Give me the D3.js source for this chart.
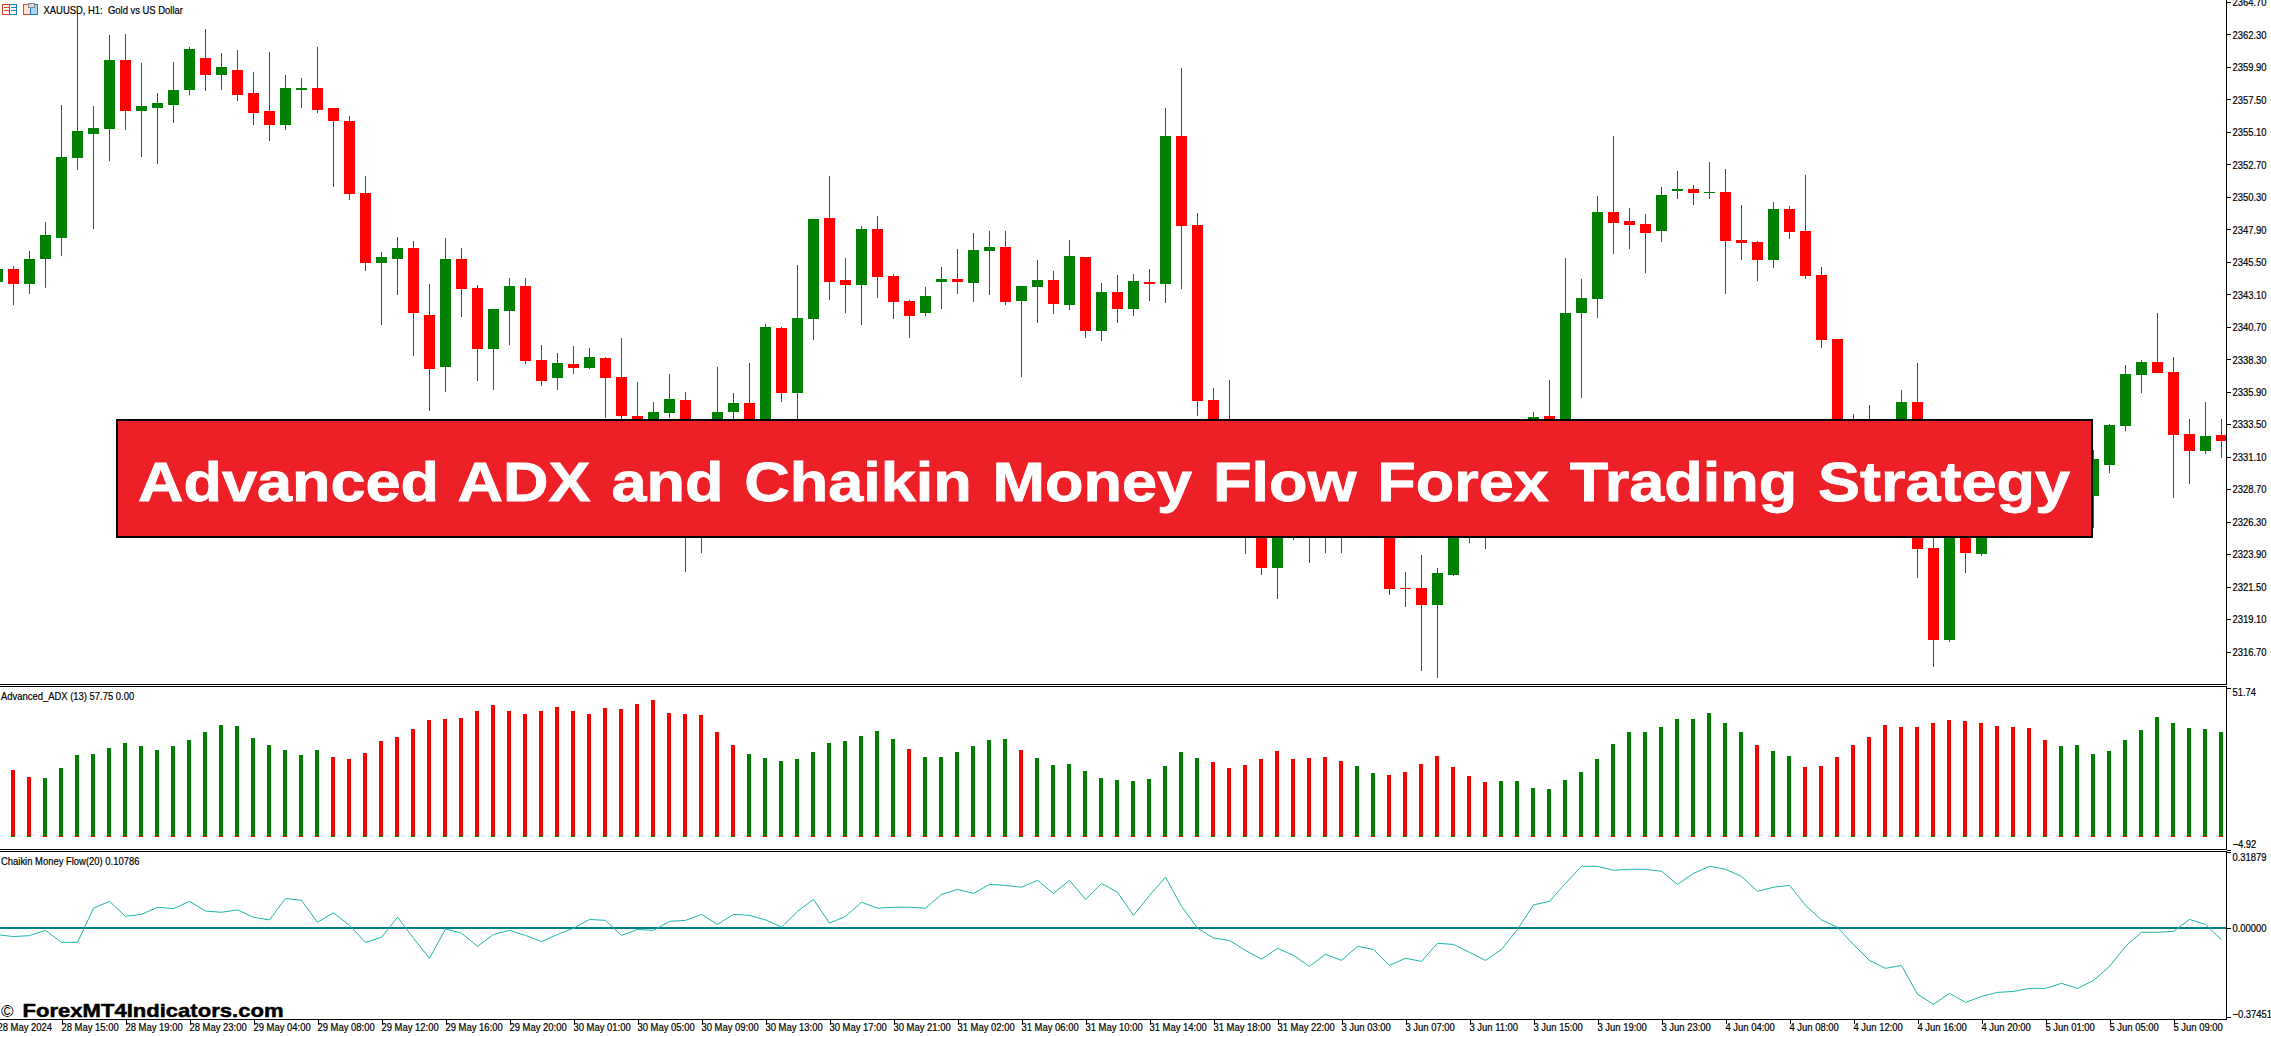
<!DOCTYPE html>
<html>
<head>
<meta charset="utf-8">
<script src="https://cdn.jsdelivr.net/npm/d3@7/dist/d3.min.js"></script>
<style>
html,body{margin:0;padding:0;background:#fff;overflow:hidden}
svg{display:block}
text{font-family:"Liberation Sans",sans-serif;font-size:10.5px;fill:#000;white-space:pre}
</style>
</head>
<body>
<div id="chart"></div>
<script>
const chartTitle = "XAUUSD, H1:  Gold vs US Dollar";
const bannerTitle = "Advanced ADX and Chaikin Money Flow Forex Trading Strategy";
const watermark = "ForexMT4Indicators.com";
const adxTitle = "Advanced_ADX (13) 57.75 0.00";
const cmfTitle = "Chaikin Money Flow(20) 0.10786";

const firstBar = -1;
const opens = [2344.03,2345.00,2343.88,2345.73,2347.29,2353.20,2354.98,2355.35,2360.38,2356.68,2356.90,2357.12,2358.16,2360.53,2359.27,2359.71,2357.94,2356.61,2355.64,2358.23,2358.38,2356.83,2355.87,2350.61,2345.44,2345.73,2346.55,2341.59,2337.74,2345.73,2343.59,2339.08,2341.89,2343.74,2338.26,2336.93,2337.97,2337.67,2338.41,2337.01,2334.12,2332.84,2334.34,2335.30,2325.07,2330.38,2334.42,2335.08,2332.84,2340.63,2335.82,2341.30,2348.77,2344.18,2343.81,2347.95,2344.48,2342.63,2341.74,2344.03,2344.25,2343.96,2346.33,2346.62,2342.63,2343.66,2344.18,2342.33,2345.88,2340.41,2343.29,2342.03,2344.03,2343.88,2354.83,2348.25,2335.30,2330.13,2330.87,2329.63,2322.88,2325.44,2326.92,2328.15,2327.91,2329.63,2330.38,2329.88,2321.40,2321.40,2320.14,2322.36,2326.43,2325.69,2328.65,2328.40,2330.38,2334.12,2332.84,2341.74,2342.77,2349.21,2348.54,2348.32,2347.80,2350.76,2350.91,2350.61,2350.69,2347.14,2346.99,2345.66,2349.43,2347.80,2344.55,2339.82,2332.35,2332.84,2330.87,2332.59,2335.16,2324.36,2317.55,2326.43,2323.91,2326.18,2328.89,2327.91,2328.40,2329.88,2328.89,2328.20,2330.50,2333.38,2337.16,2338.11,2337.37,2332.79,2331.53,2332.72];
const highs = [2345.22,2345.22,2346.33,2348.47,2357.12,2364.00,2356.98,2362.23,2362.30,2360.16,2357.94,2360.23,2361.41,2362.67,2360.90,2361.12,2359.56,2360.97,2359.27,2359.05,2361.41,2356.83,2356.31,2351.87,2346.25,2347.36,2347.06,2343.88,2347.29,2346.55,2343.81,2342.03,2344.33,2344.33,2339.37,2338.78,2339.30,2339.15,2338.48,2339.89,2336.64,2335.16,2337.23,2335.90,2332.84,2337.74,2335.82,2338.04,2340.92,2340.70,2345.29,2348.69,2351.87,2345.81,2348.17,2348.91,2344.62,2342.70,2343.66,2345.14,2346.47,2347.66,2347.80,2347.80,2343.74,2345.66,2344.85,2347.14,2345.88,2343.96,2344.55,2344.62,2345.00,2356.83,2359.79,2349.14,2336.19,2336.78,2332.10,2330.38,2326.67,2327.91,2329.14,2329.14,2330.38,2330.38,2330.87,2331.61,2322.58,2323.84,2322.88,2327.91,2327.41,2329.14,2329.14,2331.61,2334.42,2336.78,2345.81,2344.25,2350.39,2354.83,2349.51,2349.06,2351.06,2352.24,2351.21,2352.91,2352.39,2349.73,2347.06,2349.95,2349.65,2351.95,2345.14,2339.82,2334.27,2334.93,2333.08,2336.04,2338.04,2325.44,2327.91,2327.91,2327.17,2329.14,2329.88,2330.38,2330.62,2330.87,2331.36,2331.61,2333.53,2337.89,2338.26,2341.74,2338.48,2333.90,2335.16,2333.90];
const lows = [2343.50,2342.33,2343.14,2343.59,2345.95,2352.32,2347.95,2352.98,2355.27,2353.28,2352.76,2355.79,2357.86,2358.09,2358.16,2357.35,2355.64,2354.46,2355.27,2356.83,2356.46,2351.06,2350.10,2344.85,2340.85,2343.07,2338.56,2334.49,2335.90,2341.44,2336.71,2336.04,2339.37,2337.97,2336.34,2336.04,2337.23,2337.60,2333.97,2333.77,2333.08,2332.10,2333.97,2322.58,2323.99,2328.40,2333.82,2330.38,2331.61,2335.16,2333.08,2339.74,2342.70,2341.74,2340.85,2342.85,2341.30,2339.89,2341.52,2342.03,2343.14,2342.55,2343.07,2342.33,2337.01,2340.99,2341.66,2341.96,2339.89,2339.67,2340.99,2341.52,2342.63,2342.48,2343.51,2334.12,2329.14,2329.39,2323.91,2322.36,2320.58,2324.95,2323.25,2323.99,2323.99,2327.17,2328.15,2320.88,2319.99,2315.26,2314.77,2322.26,2324.73,2324.28,2327.17,2327.66,2329.63,2330.62,2331.85,2335.45,2341.37,2346.10,2346.47,2344.70,2346.99,2350.17,2349.73,2350.17,2343.14,2345.66,2344.11,2345.07,2347.21,2344.25,2339.15,2331.85,2329.88,2330.38,2330.38,2331.85,2322.14,2315.55,2317.41,2322.51,2323.77,2325.69,2327.66,2327.41,2327.91,2327.91,2328.40,2325.84,2329.91,2333.01,2335.82,2337.30,2328.06,2329.09,2331.31,2331.01];
const closes = [2345.00,2343.88,2345.73,2347.51,2353.28,2355.13,2355.42,2360.45,2356.68,2356.98,2357.20,2358.23,2361.19,2359.27,2359.93,2357.86,2356.53,2355.64,2358.31,2358.31,2356.75,2355.87,2350.54,2345.44,2345.88,2346.55,2341.74,2337.60,2345.73,2343.51,2339.08,2342.03,2343.74,2338.19,2336.71,2338.04,2337.67,2338.48,2336.93,2334.12,2333.45,2334.42,2335.38,2325.07,2327.91,2334.42,2335.08,2332.84,2340.70,2335.82,2341.37,2348.69,2344.03,2343.81,2347.95,2344.40,2342.55,2341.52,2343.00,2344.25,2344.03,2346.40,2346.62,2342.55,2343.74,2344.18,2342.40,2345.95,2340.41,2343.29,2342.03,2344.11,2343.88,2354.83,2348.17,2335.23,2330.38,2331.61,2329.63,2322.88,2325.44,2326.92,2325.44,2326.67,2329.39,2327.91,2329.14,2321.33,2321.33,2320.14,2322.51,2326.43,2325.44,2328.15,2327.91,2330.38,2334.05,2332.84,2341.74,2342.85,2349.21,2348.40,2348.25,2347.66,2350.47,2350.91,2350.61,2350.69,2347.06,2346.92,2345.66,2349.43,2347.73,2344.48,2339.74,2332.35,2330.62,2331.11,2332.59,2335.16,2324.28,2317.55,2326.92,2323.99,2326.18,2328.40,2327.41,2329.63,2329.88,2328.65,2330.62,2330.92,2333.45,2337.23,2338.11,2337.30,2332.72,2331.53,2332.64,2332.27];

const adxValues = [22.97,20.52,20.17,23.67,28.21,28.56,30.66,32.41,31.36,29.96,31.36,33.46,36.26,38.71,38.36,34.16,31.71,29.96,28.21,29.96,27.52,26.82,28.91,33.11,34.51,37.31,40.46,40.81,41.16,43.60,45.70,43.60,42.56,43.60,45.00,43.60,42.56,44.65,44.30,46.05,47.45,42.91,42.56,42.21,36.26,31.71,28.56,27.17,26.12,26.82,29.26,32.41,33.11,34.86,36.61,33.81,30.31,27.52,27.52,29.26,31.36,33.46,33.81,29.96,27.17,24.72,25.07,22.62,20.17,19.47,19.12,19.82,24.37,29.26,27.17,25.77,23.67,24.72,26.82,29.61,26.82,27.17,27.52,26.12,24.37,21.92,21.22,22.27,25.07,27.87,24.02,20.87,18.77,19.12,19.12,16.67,16.32,19.47,22.27,26.82,32.06,36.26,36.26,38.01,40.81,40.81,42.91,39.41,36.26,31.71,29.61,27.87,24.02,24.37,27.52,31.71,34.51,38.71,38.01,38.01,39.41,40.46,40.11,39.41,38.36,38.01,37.66,33.46,31.36,31.71,28.56,29.61,33.46,36.96,41.51,39.41,37.66,37.31,36.26];
const adxTrend = ("rr"+"gggggggggggggggggg"+"rrrrrrrrrrrrrrrrrrrrrrrrrr"+"gggggggggg"+"r"+"gggggg"+"r"+"ggggggggggg"+"rrrrrrrrr"+"gg"+"rrrrrrr"+"gggggggggggggggg"+"r"+"gg"+"rrrrrrrrrrrrrrrr"+"ggggggggggg").split("");

const cmfValues = [-0.028,-0.036,-0.032,-0.010,-0.060,-0.060,0.083,0.112,0.049,0.057,0.087,0.081,0.112,0.071,0.066,0.076,0.045,0.034,0.124,0.116,0.024,0.064,0.011,-0.060,-0.039,0.045,-0.043,-0.127,-0.004,-0.022,-0.077,-0.027,-0.010,-0.031,-0.057,-0.027,-0.001,0.036,0.032,-0.031,-0.006,-0.010,0.028,0.032,0.057,0.015,0.057,0.053,0.034,0.004,0.070,0.120,0.020,0.049,0.108,0.083,0.087,0.087,0.083,0.141,0.162,0.145,0.183,0.179,0.171,0.200,0.145,0.200,0.120,0.187,0.150,0.053,0.137,0.213,0.091,-0.001,-0.042,-0.052,-0.094,-0.131,-0.085,-0.115,-0.161,-0.110,-0.136,-0.077,-0.090,-0.157,-0.127,-0.140,-0.064,-0.069,-0.102,-0.136,-0.090,-0.006,0.097,0.112,0.187,0.259,0.259,0.242,0.246,0.246,0.238,0.183,0.229,0.259,0.246,0.217,0.154,0.171,0.179,0.095,0.034,0.003,-0.069,-0.136,-0.169,-0.157,-0.278,-0.320,-0.274,-0.312,-0.287,-0.270,-0.266,-0.253,-0.253,-0.232,-0.253,-0.220,-0.161,-0.077,-0.018,-0.018,-0.014,0.036,0.015,-0.049];

const priceTicks = [2364.70,2362.30,2359.90,2357.50,2355.10,2352.70,2350.30,2347.90,2345.50,2343.10,2340.70,2338.30,2335.90,2333.50,2331.10,2328.70,2326.30,2323.90,2321.50,2319.10,2316.70];
const adxTicks = [51.74,-4.92];
const cmfTicks = [0.31879,0,-0.37451];
const dateTickBars = [-1,3,7,11,15,19,23,27,31,35,39,43,47,51,55,59,63,67,71,75,79,83,87,91,95,99,103,107,111,115,119,123,127,131,135];
const dateLabels = ["28 May 2024","28 May 15:00","28 May 19:00","28 May 23:00","29 May 04:00","29 May 08:00","29 May 12:00","29 May 16:00","29 May 20:00","30 May 01:00","30 May 05:00","30 May 09:00","30 May 13:00","30 May 17:00","30 May 21:00","31 May 02:00","31 May 06:00","31 May 10:00","31 May 14:00","31 May 18:00","31 May 22:00","3 Jun 03:00","3 Jun 07:00","3 Jun 11:00","3 Jun 15:00","3 Jun 19:00","3 Jun 23:00","4 Jun 04:00","4 Jun 08:00","4 Jun 12:00","4 Jun 16:00","4 Jun 20:00","5 Jun 01:00","5 Jun 05:00","5 Jun 09:00"];

const W = 2271, H = 1037, AXIS_X = 2226;
const GREEN = "#008000", RED = "#ff0000";

const svg = d3.select("#chart").append("svg").attr("width", W).attr("height", H);
svg.append("rect").attr("width", W).attr("height", H).attr("fill", "#fff");

const bars = opens.map((o, k) => ({i: firstBar + k, o, h: highs[k], l: lows[k], c: closes[k]}));
const x = d3.scaleLinear().domain([-1, 138]).range([-2.5, 2221.5]);
const yPrice = d3.scaleLinear().domain([2364.7, 2316.7]).range([2, 651.5]);
const yAdx = d3.scaleLinear().domain([51.74, -4.92]).range([687.8, 849.8]);
const yCmf = d3.scaleLinear().domain([0.31879, -0.37451]).range([852, 1017.3]);

// condense a small label the way the terminal's narrow bitmap font looks
function narrow(sel) {
  sel.each(function () {
    const t = d3.select(this);
    const px = +t.attr("x") || 0, py = +t.attr("y") || 0;
    const prior = t.attr("transform") || "";
    t.attr("x", 0).attr("y", 0)
     .attr("transform", `${prior} translate(${px},${py}) scale(0.9,1)`)
     .attr("stroke", "#000").attr("stroke-width", 0.2);
  });
}

// candles
const crisp = svg.append("g").attr("shape-rendering", "crispEdges");
const candles = crisp.append("g").selectAll("g").data(bars).join("g")
  .attr("fill", d => d.c >= d.o ? GREEN : RED);
candles.append("rect")
  .attr("x", d => x(d.i) - 0.5).attr("width", 1)
  .attr("y", d => yPrice(d.h)).attr("height", d => yPrice(d.l) - yPrice(d.h));
candles.append("rect")
  .attr("x", d => x(d.i) - 5.5).attr("width", 11)
  .attr("y", d => yPrice(Math.max(d.o, d.c)))
  .attr("height", d => Math.max(1, Math.abs(yPrice(d.o) - yPrice(d.c))));

// ADX histogram
const adx = adxValues.map((v, k) => ({i: k, v, t: adxTrend[k]}));
const adxG = crisp.append("g");
adxG.selectAll(".bar").data(adx).join("rect").attr("class", "bar")
  .attr("x", d => Math.floor(x(d.i)) - 2).attr("width", 4)
  .attr("y", d => yAdx(d.v)).attr("height", d => yAdx(0) - yAdx(d.v))
  .attr("fill", d => d.t === "g" ? GREEN : RED);
adxG.selectAll(".base").data(adx).join("rect").attr("class", "base")
  .attr("x", d => Math.floor(x(d.i)) - 2).attr("width", 4)
  .attr("y", yAdx(0)).attr("height", 1)
  .attr("fill", d => d.t === "g" ? RED : GREEN);

// CMF
crisp.append("rect").attr("x", 0).attr("width", AXIS_X).attr("y", yCmf(0) - 1).attr("height", 2).attr("fill", "#008080");
svg.append("path")
  .attr("fill", "none").attr("stroke", "#20b2aa").attr("stroke-width", 1)
  .attr("d", d3.line().x((d, k) => x(firstBar + k)).y(d => yCmf(d))(cmfValues));

// frame lines
const frame = crisp.append("g").attr("fill", "#000");
[684, 686, 849, 851, 1019].forEach(py => {
  frame.append("rect").attr("x", 0).attr("y", py).attr("width", AXIS_X + 1).attr("height", 1);
});
[[0, 684], [686, 849], [851, 1019]].forEach(([a, b]) => {
  frame.append("rect").attr("x", AXIS_X).attr("y", a).attr("width", 1).attr("height", b - a);
});

// right axes
function rightAxis(scale, ticks, fmt, offsets) {
  const g = svg.append("g").attr("transform", `translate(${AXIS_X + 0.5},0)`)
    .call(d3.axisRight(scale).tickValues(ticks).tickFormat(fmt).tickSize(4).tickPadding(2));
  g.select(".domain").remove();
  g.selectAll(".tick line").attr("stroke", "#000").attr("shape-rendering", "crispEdges");
  g.selectAll(".tick text").attr("dy", "0.36em")
    .attr("transform", d => `translate(0,${offsets ? offsets(d) : 0})`).call(narrow);
  return g;
}
rightAxis(yPrice, priceTicks, d3.format(".2f"));
rightAxis(yAdx, adxTicks, d3.format(".2f"), d => d > 0 ? 4 : -6);
rightAxis(yCmf, cmfTicks, d3.format(".5f"), d => d > 0.1 ? 5 : d < -0.1 ? -4 : 0);

// bottom axis
const xAxis = svg.append("g").attr("transform", "translate(0,1019.5)")
  .call(d3.axisBottom(x).tickValues(dateTickBars)
    .tickFormat(d => dateLabels[dateTickBars.indexOf(d)]).tickSize(4).tickPadding(1));
xAxis.select(".domain").remove();
xAxis.selectAll(".tick line").attr("stroke", "#000").attr("shape-rendering", "crispEdges");
xAxis.selectAll(".tick text").attr("text-anchor", "start").attr("x", -0.5).attr("y", 4).attr("dy", "0.71em").call(narrow);

// titles
svg.append("text").attr("x", 43.5).attr("y", 14).text(chartTitle).call(narrow);
svg.append("text").attr("x", 1).attr("y", 699.5).text(adxTitle).call(narrow);
svg.append("text").attr("x", 1).attr("y", 864.5).text(cmfTitle).call(narrow);

// header icons
const icons = svg.append("g").attr("shape-rendering", "crispEdges");
[2, 23].forEach((ix, n) => {
  icons.append("rect").attr("x", ix + .5).attr("y", 4.5).attr("width", 7).attr("height", 10).attr("fill", n ? "#fde0d8" : "#fff").attr("stroke", "#e8432e");
  icons.append("rect").attr("x", ix + 7.5).attr("y", 4.5).attr("width", 7).attr("height", 10).attr("fill", n ? "#a8d4f0" : "#fff").attr("stroke", "#1f78c8");
});
[7, 10].forEach(py => {
  icons.append("rect").attr("x", 4).attr("y", py).attr("width", 5).attr("height", 1).attr("fill", "#e8432e");
  icons.append("rect").attr("x", 11).attr("y", py).attr("width", 5).attr("height", 1).attr("fill", "#1f78c8");
});
icons.append("rect").attr("x", 28).attr("y", 3).attr("width", 6).attr("height", 4).attr("fill", "#ddd").attr("stroke", "#888");

// watermark
svg.append("text").attr("x", 1).attr("y", 1017).style("font-size", "17px").text("©");
svg.append("text").attr("x", 22.5).attr("y", 1017)
  .attr("textLength", 261).attr("lengthAdjust", "spacingAndGlyphs")
  .style("font-size", "19px").style("font-weight", "700")
  .attr("stroke", "#000").attr("stroke-width", 0.5).text(watermark);

// banner
svg.append("rect").attr("x", 117).attr("y", 420).attr("width", 1975).attr("height", 116.5)
  .attr("fill", "#ed1f27").attr("stroke", "#000").attr("stroke-width", 2).attr("shape-rendering", "crispEdges");
svg.append("text").attr("x", 138).attr("y", 501)
  .attr("textLength", 1932).attr("lengthAdjust", "spacingAndGlyphs")
  .style("font-size", "56px").style("font-weight", "700").style("fill", "#fff").style("word-spacing", "3px")
  .attr("stroke", "#fff").attr("stroke-width", 0.8).text(bannerTitle);
</script>
</body>
</html>
